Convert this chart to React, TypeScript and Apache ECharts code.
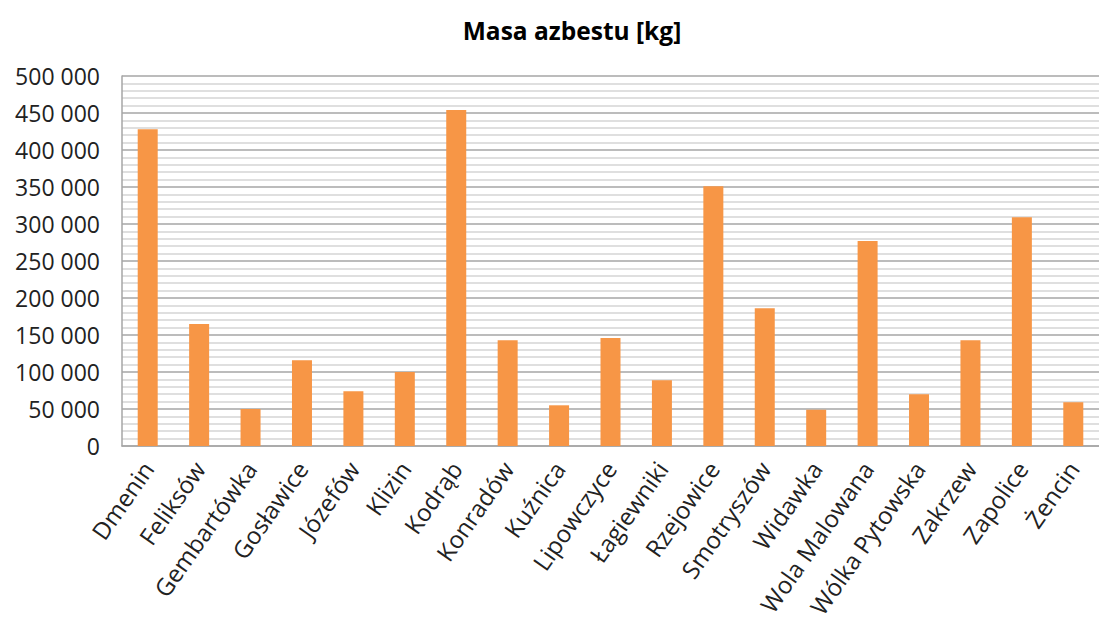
import React, { useEffect, useRef } from "react";
import * as echarts from "echarts";

const categories = [
  "Dmenin", "Feliksów", "Gembartówka", "Gosławice", "Józefów", "Klizin", "Kodrąb",
  "Konradów", "Kuźnica", "Lipowczyce", "Łagiewniki", "Rzejowice", "Smotryszów",
  "Widawka", "Wola Malowana", "Wólka Pytowska", "Zakrzew", "Zapolice", "Żencin",
];
const masa = [
  428000, 165000, 50000, 116000, 74000, 100000, 454000,
  143000, 55000, 146000, 89000, 351000, 186000,
  49000, 277000, 70000, 143000, 309000, 59000,
];
const titleText = "Masa azbestu [kg]";
const yMin = 0;
const yMax = 500000;
const yStep = 50000;

const fmt = (v: number) => {
  const s = String(Math.round(v));
  return s.replace(/\B(?=(\d{3})+(?!\d))/g, " ");
};

export default function App() {
  const ref = useRef<HTMLDivElement>(null);
  useEffect(() => {
    if (!ref.current) return;
    const chart = echarts.init(ref.current, null, { renderer: "svg" });
    const font = "'Open Sans', 'Noto Sans', sans-serif";
    chart.setOption({
      animation: false,
      backgroundColor: "#ffffff",
      title: {
        text: titleText,
        left: 567,
        textAlign: "center",
        top: 13,
        textStyle: { fontFamily: font, fontSize: 24.5, fontWeight: "bold", color: "#000000" },
      },
      grid: { left: 122, right: -12, top: 76, bottom: 176, containLabel: false },
      xAxis: {
        type: "category",
        data: categories,
        axisLine: { show: true, lineStyle: { color: "#a6a6a6", width: 1.5 } },
        axisTick: { show: false },
        axisLabel: {
          interval: 0,
          rotate: 55,
          margin: 18,
          fontFamily: font,
          fontSize: 24,
          color: "#222222",
        },
      },
      yAxis: {
        type: "value",
        min: yMin,
        max: yMax,
        interval: yStep,
        axisLine: { show: true, lineStyle: { color: "#a6a6a6", width: 1.5 } },
        axisTick: { show: false },
        axisLabel: {
          formatter: (v: number) => fmt(v),
          margin: 22,
          fontFamily: font,
          fontSize: 23,
          color: "#222222",
        },
        splitLine: { show: true, lineStyle: { color: "#a6a6a6", width: 1.5 } },
        minorTick: { show: false, splitNumber: 5 },
        minorSplitLine: { show: true, lineStyle: { color: "#d4d4d4", width: 1.5 } },
      },
      series: [
        {
          type: "bar",
          data: masa,
          barWidth: 20,
          itemStyle: { color: "#F79646" },
        },
      ],
    });
    return () => chart.dispose();
  }, []);
  return (
    <div
      ref={ref}
      style={{ position: "fixed", left: 0, top: 0, width: 1099, height: 622 }}
    />
  );
}
